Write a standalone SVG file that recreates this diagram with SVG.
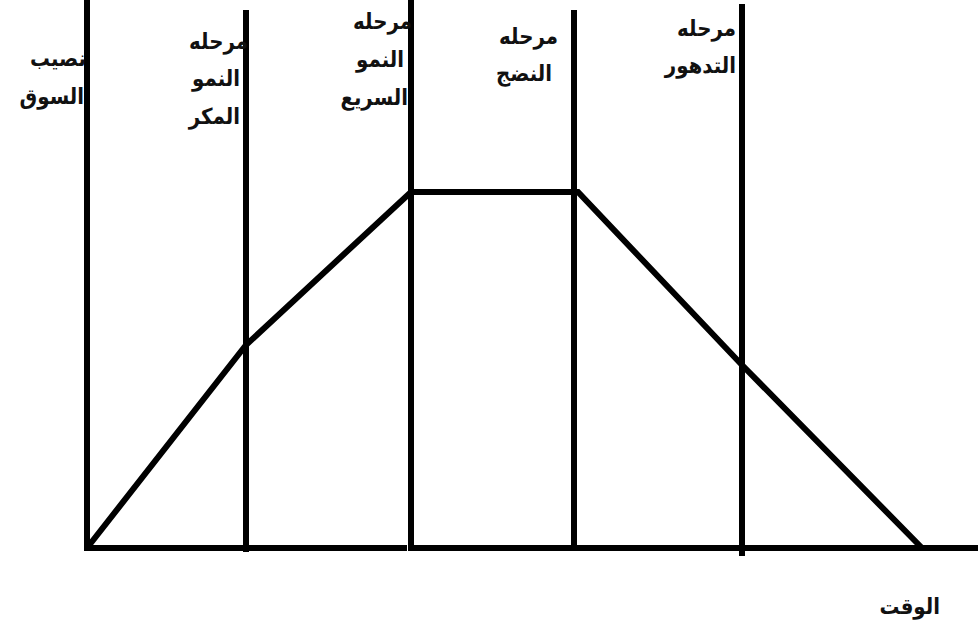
<svg xmlns="http://www.w3.org/2000/svg" width="978" height="637" viewBox="0 0 978 637">
<style>
.ln{stroke:#000;stroke-width:6;fill:none;stroke-linejoin:miter}
.t{font-family:"DejaVu Sans Condensed","DejaVu Sans",sans-serif;font-weight:bold;font-size:22px;fill:#111;text-anchor:end}
</style>
<rect width="978" height="637" fill="#fff"/>
<g id="connectors">
<line class="ln" x1="84" y1="548" x2="407" y2="548"/>
<line class="ln" x1="411" y1="548" x2="978" y2="548"/>
<line class="ln" x1="87" y1="0" x2="87" y2="551"/>
<line class="ln" x1="246" y1="10" x2="246" y2="552"/>
<line class="ln" x1="411" y1="0" x2="411" y2="551"/>
<line class="ln" x1="574" y1="10" x2="574" y2="548"/>
<line class="ln" x1="742" y1="4" x2="742" y2="556"/>
<polyline class="ln" points="87,548 246,345 411,192 578,192 742,365 922,548"/>
</g>
<g id="y-label"><text class="t" x="86" y="66">نصيب</text><text class="t" x="84" y="104">السوق</text></g>
<g id="stage1"><text class="t" x="248" y="49">مرحله</text><text class="t" x="240" y="86">النمو</text><text class="t" x="240" y="124">المكر</text></g>
<g id="stage2"><text class="t" x="412" y="29">مرحله</text><text class="t" x="404" y="67">النمو</text><text class="t" x="408" y="105">السريع</text></g>
<g id="stage3"><text class="t" x="558" y="44">مرحله</text><text class="t" x="552" y="81">النضج</text></g>
<g id="stage4"><text class="t" x="736" y="36">مرحله</text><text class="t" x="736" y="73">التدهور</text></g>
<g id="x-label"><text class="t" x="940" y="614">الوقت</text></g>
</svg>
